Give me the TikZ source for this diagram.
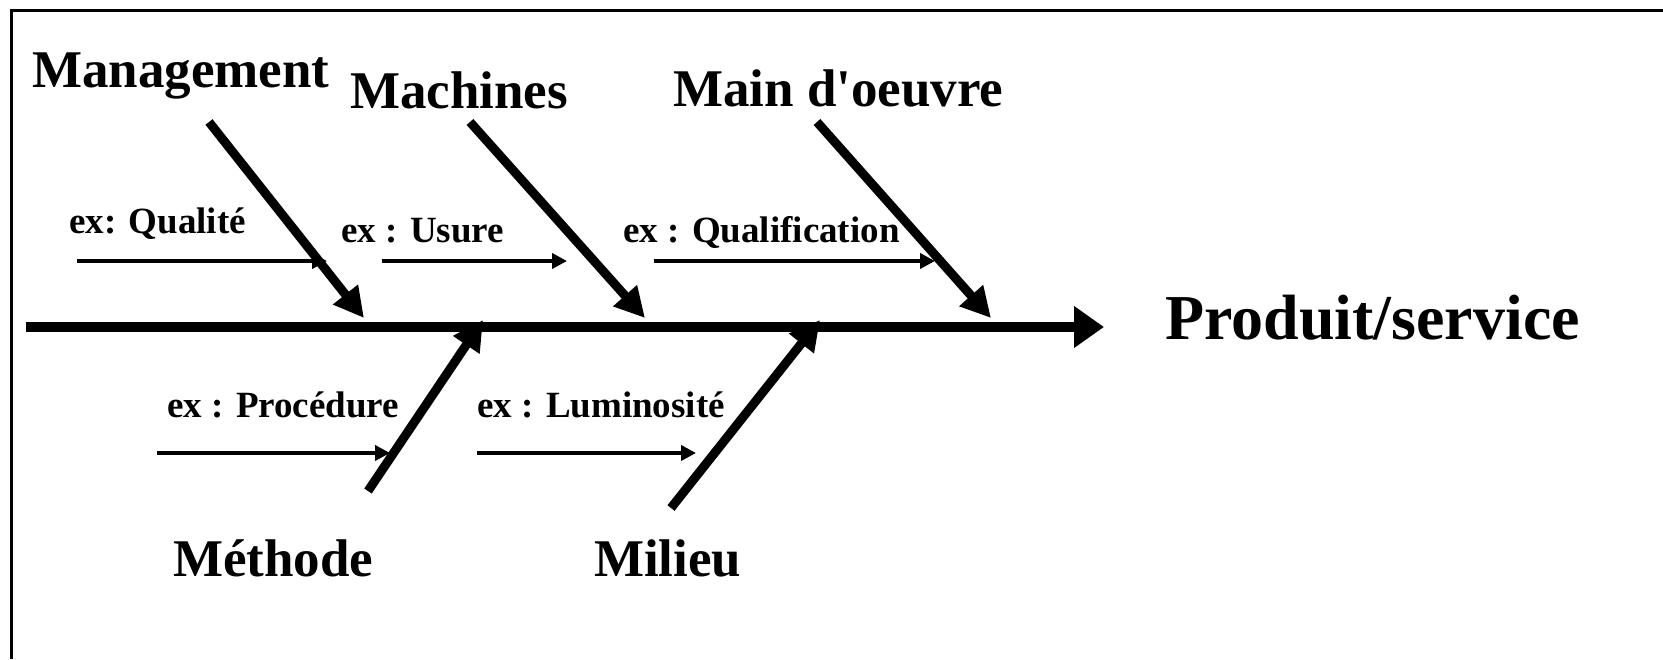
\documentclass[tikz,border=0pt]{standalone}
\usepackage{fontspec}
\setmainfont{Liberation Serif}[Ligatures=TeXOff]
\usetikzlibrary{arrows.meta}
\tikzset{
  cat/.style={anchor=base west, inner sep=0pt, font=\fontsize{53}{60}\selectfont\bfseries},
  big/.style={anchor=base west, inner sep=0pt, font=\fontsize{64}{70}\selectfont\bfseries},
  ex/.style={anchor=base west, inner sep=0pt, font=\fontsize{37}{42}\selectfont\bfseries},
  spine/.style={line width=10pt, -{Triangle[length=30pt, width=40pt]}},
  branch/.style={line width=9pt, -{Triangle[length=30pt, width=30pt]}},
  sub/.style={line width=4pt, -{Triangle[length=15pt, width=15pt]}},
  frame/.style={line width=3pt}
}
\begin{document}
\begin{tikzpicture}[x=1pt, y=-1pt]
\useasboundingbox (0,0) rectangle (1663,659);
% frame (top and left edges)
\coordinate (fTR) at (1663,10);
\coordinate (fTL) at (11,10);
\coordinate (fBL) at (11,659);
\draw[frame] (fTR) -- (fTL) -- (fBL);

% spine
\coordinate (spS) at (26,327);
\coordinate (spE) at (1104,327);
\draw[spine] (spS) -- (spE);
\node[big] (prod) at (1165,339) {Produit/service};

% category labels
\node[cat] (mgmt) at (32,87) {Management};
\node[cat] (mach) at (350,108) {Machines};
\node[cat] (main) at (673,106) {Main d'oeuvre};
\node[cat] (meth) at (173,576) {Méthode};
\node[cat] (mil)  at (594,576) {Milieu};

% branches
\coordinate (mgS) at (209,122); \coordinate (mgE) at (364,318);
\coordinate (maS) at (470,122); \coordinate (maE) at (645,318);
\coordinate (moS) at (817,122); \coordinate (moE) at (991,318);
\coordinate (meS) at (368,491); \coordinate (meE) at (483,320);
\coordinate (miS) at (671,508); \coordinate (miE) at (820,320);
\draw[branch] (mgS) -- (mgE);
\draw[branch] (maS) -- (maE);
\draw[branch] (moS) -- (moE);
\draw[branch] (meS) -- (meE);
\draw[branch] (miS) -- (miE);

% example labels
\node[ex] (exq) at (69,233) {ex: Qualité};
\node[ex] (exu) at (341,242) {ex : Usure};
\node[ex] (exf) at (623,242) {ex : Qualification};
\node[ex] (exp) at (167,417) {ex : Procédure};
\node[ex] (exl) at (477,417) {ex : Luminosité};

% sub arrows
\coordinate (sqS) at (77,261);  \coordinate (sqE) at (327,261);
\coordinate (suS) at (382,261); \coordinate (suE) at (567,261);
\coordinate (sfS) at (654,261); \coordinate (sfE) at (935,261);
\coordinate (spPS) at (157,453); \coordinate (spPE) at (390,453);
\coordinate (slS) at (477,453); \coordinate (slE) at (696,453);
\draw[sub] (sqS) -- (sqE);
\draw[sub] (suS) -- (suE);
\draw[sub] (sfS) -- (sfE);
\draw[sub] (spPS) -- (spPE);
\draw[sub] (slS) -- (slE);
\end{tikzpicture}
\end{document}
